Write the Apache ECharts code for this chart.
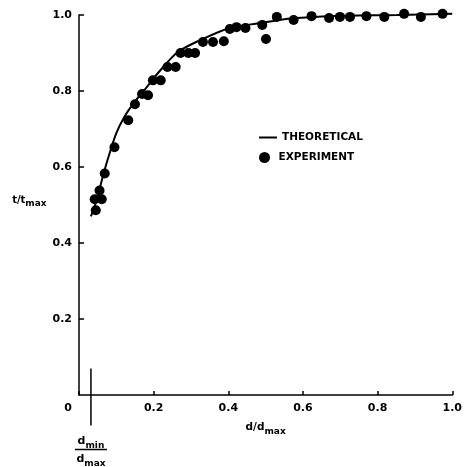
<!DOCTYPE html>
<html><head><meta charset="utf-8">
<script src="https://cdn.jsdelivr.net/npm/echarts@6/dist/echarts.min.js"></script>
<style>html,body{margin:0;padding:0;background:#fff}#c{width:465px;height:467px}</style>
</head><body><div id="c"></div>
<script>
// ---- data ----
const xTicks = [0, 0.2, 0.4, 0.6, 0.8, 1.0];
const yTicks = [0.2, 0.4, 0.6, 0.8, 1.0];
const expD = [0.045,0.042,0.061,0.055,0.069,0.095,0.132,0.150,0.169,0.185,0.198,0.219,0.237,0.259,0.272,0.293,0.311,0.332,0.359,0.388,0.404,0.422,0.446,0.491,0.501,0.530,0.575,0.623,0.670,0.699,0.726,0.770,0.818,0.871,0.916,0.974];
const expT = [0.486,0.515,0.515,0.538,0.583,0.652,0.723,0.765,0.792,0.789,0.828,0.828,0.863,0.863,0.900,0.900,0.900,0.929,0.929,0.931,0.963,0.968,0.966,0.974,0.937,0.995,0.987,0.997,0.992,0.995,0.995,0.997,0.995,1.003,0.995,1.003];
const theoD = [0.032,0.047,0.066,0.082,0.100,0.121,0.148,0.179,0.214,0.264,0.325,0.404,0.488,0.536,0.583,0.668,0.852,1.0];
const theoT = [0.470,0.512,0.583,0.636,0.689,0.731,0.770,0.807,0.850,0.902,0.934,0.966,0.979,0.987,0.992,0.997,1.000,1.003];
const dMinRatio = 0.032;
const dMinLineT = [0.07, -0.08];
const legendNames = ['THEORETICAL', 'EXPERIMENT'];

const FONT = 'DejaVu Sans';
const chart = echarts.init(document.getElementById('c'), null, {renderer: 'canvas'});
const axisText = {fontFamily: FONT, fontWeight: 'bold', fontSize: 11, color: '#000'};
const legendText = {fontFamily: FONT, fontWeight: 'bold', fontSize: 10.5, color: '#000'};

chart.setOption({
  animation: false,
  backgroundColor: '#fff',
  grid: {left: 79, right: 9, top: 15, bottom: 72},
  legend: [
    {
      orient: 'vertical', left: 254, top: 127, itemWidth: 18, itemHeight: 2,
      icon: 'rect', textStyle: legendText, data: [legendNames[0]]
    },
    {
      orient: 'vertical', left: 254, top: 147, itemWidth: 18, itemHeight: 11,
      icon: 'circle', textStyle: legendText, data: [legendNames[1]]
    }
  ],
  xAxis: {
    type: 'value', min: 0, max: 1, interval: 0.2,
    axisLine: {lineStyle: {color: '#000', width: 1.5}},
    axisTick: {inside: true, length: 4, lineStyle: {color: '#000', width: 1.5}},
    splitLine: {show: false},
    axisLabel: Object.assign({}, axisText, {
      margin: 8,
      formatter: v => {
        const i = xTicks.findIndex(t => Math.abs(t - v) < 1e-9);
        if (i < 0) return '';
        return v === 0 ? '{z|0}' : xTicks[i].toFixed(1);
      },
      rich: {z: Object.assign({}, axisText, {padding: [0, 22, 0, 0]})}
    }),
    name: '{a|d/d}{b|max}', nameLocation: 'middle', nameGap: 22,
    nameTextStyle: {rich: {
      a: {fontFamily: FONT, fontWeight: 'bold', fontSize: 10.5, color: '#000', lineHeight: 16},
      b: {fontFamily: FONT, fontWeight: 'bold', fontSize: 9, color: '#000', lineHeight: 16, padding: [8, 0, 0, 0]}
    }}
  },
  yAxis: {
    type: 'value', min: 0, max: 1, interval: 0.2,
    axisLine: {lineStyle: {color: '#000', width: 1.5}},
    axisTick: {inside: true, length: 5, lineStyle: {color: '#000', width: 1.5}},
    splitLine: {show: false},
    axisLabel: Object.assign({}, axisText, {
      margin: 7, showMinLabel: false,
      formatter: v => {
        const i = yTicks.findIndex(t => Math.abs(t - v) < 1e-9);
        return i < 0 ? '' : yTicks[i].toFixed(1);
      }
    }),
    name: '{a|t/t}{b|max}', nameLocation: 'middle', nameGap: 28, nameRotate: 0,
    nameTextStyle: {padding: [0, 0, 10, 0], rich: {
      a: {fontFamily: FONT, fontWeight: 'bold', fontSize: 10, color: '#000', lineHeight: 14},
      b: {fontFamily: FONT, fontWeight: 'bold', fontSize: 9, color: '#000', lineHeight: 14, padding: [7, 0, 0, 0]}
    }}
  },
  series: [
    {
      name: legendNames[0], type: 'line', smooth: 0.3, symbol: 'none', clip: false,
      data: theoD.map((d, i) => [d, theoT[i]]),
      lineStyle: {color: '#000', width: 2}, itemStyle: {color: '#000'}, z: 3
    },
    {
      name: legendNames[1], type: 'scatter', symbol: 'circle', symbolSize: 10, clip: false,
      data: expD.map((d, i) => [d, expT[i]]),
      itemStyle: {color: '#000', opacity: 1}, z: 4
    },
    {
      name: 'dmin', type: 'line', symbol: 'none', clip: false,
      data: dMinLineT.map(t => [dMinRatio, t]),
      lineStyle: {color: '#000', width: 1.5}, z: 5
    }
  ]
});

// fraction label d_min / d_max under the marker line
const p = chart.convertToPixel({gridIndex: 0}, [dMinRatio, dMinLineT[1]]);
const sub = {
  a: {fontFamily: FONT, fontWeight: 'bold', fontSize: 11, color: '#000', lineHeight: 16},
  b: {fontFamily: FONT, fontWeight: 'bold', fontSize: 9, color: '#000', lineHeight: 16, padding: [8, 0, 0, 0]}
};
chart.setOption({graphic: [
  {type: 'text', x: p[0], y: p[1] + 8, style: {text: '{a|d}{b|min}', rich: sub, align: 'center', verticalAlign: 'top'}},
  {type: 'line', shape: {x1: p[0] - 16, y1: p[1] + 24, x2: p[0] + 16, y2: p[1] + 24}, style: {stroke: '#000', lineWidth: 1.5}},
  {type: 'text', x: p[0], y: p[1] + 26, style: {text: '{a|d}{b|max}', rich: sub, align: 'center', verticalAlign: 'top'}}
]});
</script>
</body></html>
